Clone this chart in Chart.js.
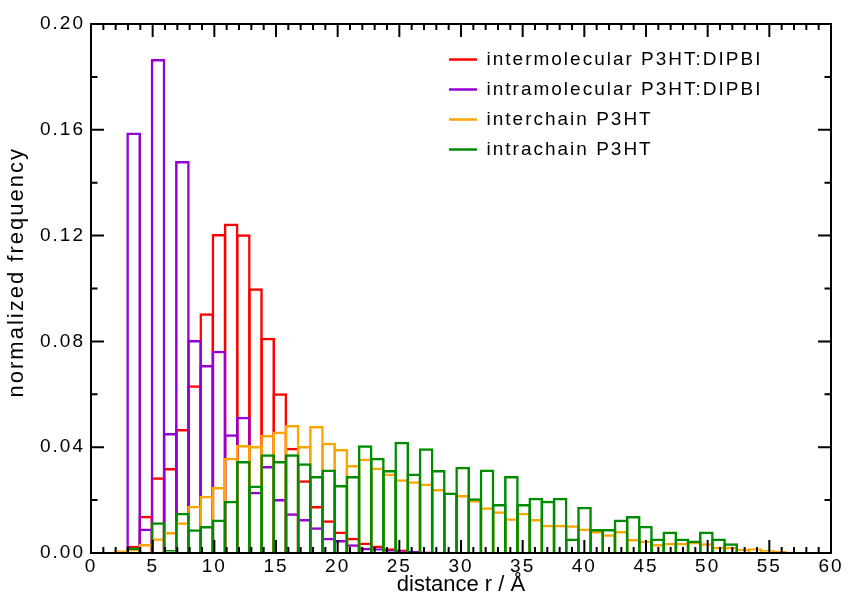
<!DOCTYPE html>
<html>
<head>
<meta charset="utf-8">
<script src="https://cdn.jsdelivr.net/npm/chart.js@4.4.1/dist/chart.umd.min.js"></script>
<style>
  html, body { margin: 0; padding: 0; background: #ffffff; }
  #wrap { width: 848px; height: 612px; }
</style>
</head>
<body>
<div id="wrap"><canvas id="c" width="848" height="612"></canvas></div>
<script>
// ---- data (bin index, 1 bin ≈ 1 Å) ----
const binIndex = [0,1,2,3,4,5,6,7,8,9,10,11,12,13,14,15,16,17,18,19,20,21,22,23,24,25,26,27,28,29,
                  30,31,32,33,34,35,36,37,38,39,40,41,42,43,44,45,46,47,48,49,50,51,52,53,54,55,56,57,58,59];

const intermolecular = [0,0,0,0.0027,0.0141,0.0286,0.0321,0.0469,0.0634,0.0906,
  0.1206,0.1246,0.1205,0.1001,0.0814,0.0604,0.0398,0.0275,0.0178,0.0124,
  0.0081,0.0058,0.0040,0.0028,0.0018,0.0013,0.0008,0.0005,0.0004,0.0003,
  0.0002,0.0002,0.0001,0.0001,0,0,0,0,0,0,
  0,0,0,0,0,0,0,0,0,0,
  0,0,0,0,0,0,0,0,0,0];

const intramolecular = [0,0,0,0.1590,0.0093,0.1868,0.0454,0.1482,0.0805,0.0711,
  0.0765,0.0449,0.0515,0.0232,0.0329,0.0204,0.0150,0.0129,0.0097,0.0058,
  0.0049,0.0033,0.0020,0.0018,0.0011,0.0009,0.0008,0.0006,0.0005,0.0004,
  0.0003,0.0002,0.0002,0.0001,0,0,0,0,0,0,
  0,0,0,0,0,0,0,0,0,0,
  0,0,0,0,0,0,0,0,0,0];

const interchain = [0.0001,0.0003,0.0010,0.0013,0.0034,0.0056,0.0079,0.0116,0.0179,0.0216,
  0.0250,0.0360,0.0408,0.0405,0.0446,0.0459,0.0484,0.0405,0.0480,0.0417,
  0.0393,0.0333,0.0357,0.0323,0.0301,0.0279,0.0271,0.0263,0.0242,0.0229,
  0.0219,0.0200,0.0173,0.0158,0.0131,0.0152,0.0129,0.0107,0.0107,0.0105,
  0.0093,0.0083,0.0071,0.0083,0.0053,0.0047,0.0034,0.0039,0.0039,0.0043,
  0.0037,0.0024,0.0024,0.0015,0.0018,0.0011,0.0008,0.0005,0.0005,0.0004];

const intrachain = [0,0,0,0.0021,0.0003,0.0116,0.0011,0.0152,0.0090,0.0102,
  0.0127,0.0198,0.0348,0.0255,0.0373,0.0348,0.0373,0.0339,0.0291,0.0316,
  0.0257,0.0291,0.0407,0.0360,0.0314,0.0421,0.0301,0.0396,0.0314,0.0229,
  0.0326,0.0207,0.0316,0.0185,0.0291,0.0185,0.0209,0.0198,0.0209,0.0055,
  0.0175,0.0091,0.0091,0.0127,0.0140,0.0103,0.0055,0.0081,0.0055,0.0047,
  0.0081,0.0055,0.0037,0,0,0,0,0,0,0];

const seriesLabels = ['intermolecular P3HT:DIPBI','intramolecular P3HT:DIPBI','interchain P3HT','intrachain P3HT'];
const xTickValues = [0,5,10,15,20,25,30,35,40,45,50,55,60];
const yTickValues = [0,0.04,0.08,0.12,0.16,0.20];

// ---- styling / layout ----
const BIN_WIDTH = 0.988;   // Å per histogram bin
const colors = ['#ff0000', '#9400d3', '#ffa500', '#008b00'];
const drawOrder = [4, 3, 2, 1];  // green on top

function makeDataset(i, values) {
  return {
    label: seriesLabels[i],
    data: values.map((v, k) => ({ x: (binIndex[k] + 0.5) * BIN_WIDTH, y: v })),
    backgroundColor: 'rgba(0,0,0,0)',
    borderColor: colors[i],
    borderWidth: 2.5,
    borderSkipped: 'start',
    grouped: false,
    barPercentage: 1.205,
    categoryPercentage: 1,
    inflateAmount: 0,
    order: drawOrder[i]
  };
}

Chart.defaults.font.family = "'Liberation Sans', Arial, sans-serif";
Chart.defaults.font.size = 19;
Chart.defaults.color = '#000000';

const frameTicks = {
  id: 'frameTicks',
  beforeDraw(chart) { chart.ctx.letterSpacing = '2px'; },
  afterLayout(chart) {
    const lg = chart.legend;
    if (!lg) return;
    lg.left = 438; lg.right = 848; lg.top = 39; lg.bottom = 200;
    lg.width = lg.right - lg.left; lg.height = lg.bottom - lg.top;
  },
  afterDatasetsDraw(chart) {
    const ctx = chart.ctx;
    const a = chart.chartArea;
    const xs = chart.scales.x, ys = chart.scales.y;
    ctx.save();
    ctx.strokeStyle = '#000';
    ctx.lineWidth = 2;
    ctx.lineCap = 'butt';
    ctx.beginPath();
    for (let v = 0; v <= 60; v++) {
      const px = xs.getPixelForValue(v);
      const len = (v % 5 === 0) ? 13 : 6;
      ctx.moveTo(px, a.bottom); ctx.lineTo(px, a.bottom - len);
      ctx.moveTo(px, a.top); ctx.lineTo(px, a.top + len);
    }
    for (let k = 0; k <= 10; k++) {
      const py = ys.getPixelForValue(k * 0.02);
      const len = (k % 2 === 0) ? 13 : 6.5;
      ctx.moveTo(a.left, py); ctx.lineTo(a.left + len, py);
      ctx.moveTo(a.right, py); ctx.lineTo(a.right - len, py);
    }
    ctx.stroke();
    ctx.strokeRect(a.left, a.top, a.right - a.left, a.bottom - a.top);
    ctx.restore();
    ctx.letterSpacing = '0px';
  },
  afterDraw(chart) { chart.ctx.letterSpacing = '0px'; }
};

new Chart(document.getElementById('c'), {
  type: 'bar',
  data: {
    datasets: [
      makeDataset(0, intermolecular),
      makeDataset(1, intramolecular),
      makeDataset(2, interchain),
      makeDataset(3, intrachain)
    ]
  },
  options: {
    responsive: false,
    animation: false,
    layout: { padding: { left: 0, top: 24, right: 17, bottom: 0 } },
    plugins: {
      tooltip: { enabled: false },
      legend: {
        display: true,
        position: 'chartArea',
        align: 'start',
        labels: {
          usePointStyle: true,
          pointStyle: 'line',
          pointStyleWidth: 28,
          padding: 11,
          color: '#000',
          font: { size: 19 },
          sort: (a, b) => a.datasetIndex - b.datasetIndex
        }
      }
    },
    scales: {
      x: {
        type: 'linear',
        position: 'bottom',
        offset: false,
        min: 0, max: 60,
        afterBuildTicks: s => { s.ticks = xTickValues.map(v => ({ value: v })); },
        ticks: { padding: 2, maxRotation: 0, autoSkip: false, font: { size: 19 },
                 callback: v => String(v) },
        grid: { display: false, drawTicks: false, offset: false, z: 1 },
        border: { display: false },
        title: { display: true, text: 'distance r / Å', font: { size: 22 },
                 padding: { top: 0, bottom: 14 } },
        afterFit: s => { s.height = 59; }
      },
      y: {
        type: 'linear',
        min: 0, max: 0.2,
        afterBuildTicks: s => { s.ticks = yTickValues.map(v => ({ value: v })); },
        ticks: { padding: 6, font: { size: 19 }, callback: v => Number(v).toFixed(2) },
        grid: { display: false, drawTicks: false },
        border: { display: false },
        title: { display: true, text: '    normalized frequency', font: { size: 22 },
                 padding: { top: 4, bottom: 0 } },
        afterFit: s => { s.width = 91; }
      }
    }
  },
  plugins: [frameTicks]
});
</script>
</body>
</html>
